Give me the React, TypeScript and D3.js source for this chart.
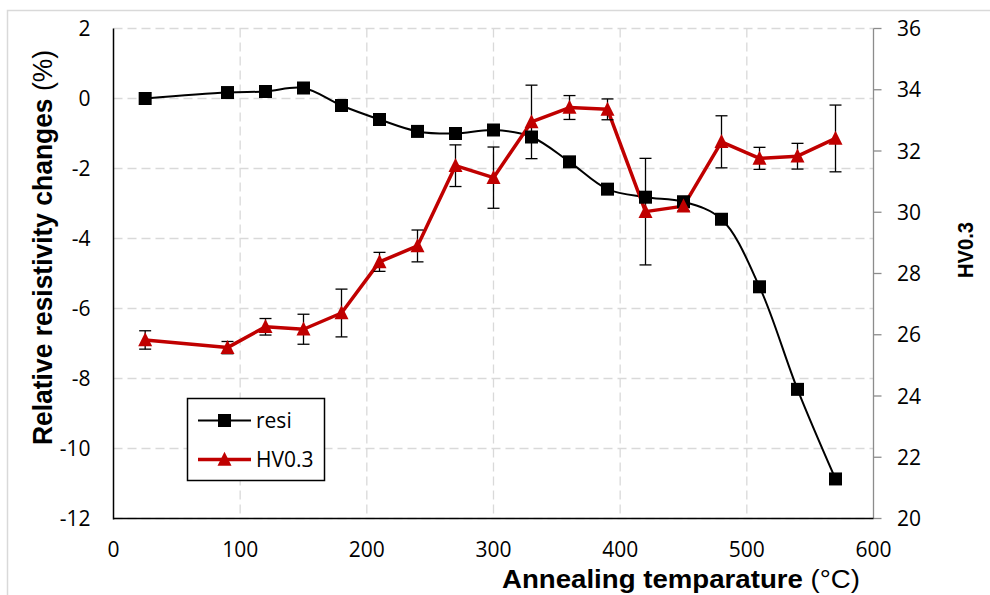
import * as d3 from "d3";

// annealing temperatures (°C)
const temps = [25, 90, 120, 150, 180, 210, 240, 270, 300, 330, 360, 390, 420, 450, 480, 510, 540, 570];
// relative resistivity change (%)
const resi = [0.0, 0.17, 0.2, 0.3, -0.2, -0.6, -0.94, -1.0, -0.9, -1.1, -1.81, -2.59, -2.82, -2.95, -3.45, -5.38, -8.31, -10.87];
// micro hardness HV0.3 and its error
const hv = [25.83, 25.58, 26.26, 26.18, 26.71, 28.38, 28.9, 31.52, 31.13, 32.95, 33.42, 33.36, 30.02, 30.2, 32.3, 31.76, 31.83, 32.41];
const hvErr = [0.3, 0.2, 0.27, 0.49, 0.78, 0.31, 0.52, 0.68, 1.0, 1.2, 0.39, 0.34, 1.74, 0.15, 0.85, 0.36, 0.42, 1.09];

const xTicks = [0, 100, 200, 300, 400, 500, 600];
const yLeftTicks = [2, 0, -2, -4, -6, -8, -10, -12];
const yRightTicks = [36, 34, 32, 30, 28, 26, 24, 22, 20];

const RED = "#C00000";
const GRID = "#d9d9d9";
const TICK_FONT = "'Open Sans', sans-serif";
const TITLE_FONT = "'Liberation Sans', Arial, sans-serif";

const left = 113.5, right = 873.5, top = 28.5, bottom = 518.5;

const x = d3.scaleLinear().domain([0, 600]).range([left, right]);
const yL = d3.scaleLinear().domain([-12, 2]).range([bottom, top]);
const yR = d3.scaleLinear().domain([20, 36]).range([bottom, top]);

const tri = (cx: number, cy: number, s: number) =>
  `M${cx},${cy - s * 0.55}L${cx + s / 2},${cy + s * 0.45}L${cx - s / 2},${cy + s * 0.45}Z`;

export default function App() {
  const resiLine = d3.line<number>()
    .x((_, i) => x(temps[i]))
    .y(d => yL(d))
    .curve(d3.curveCatmullRom.alpha(0.5))(resi) || "";

  const hvLine = d3.line<number>()
    .x((_, i) => x(temps[i]))
    .y(d => yR(d))(hv) || "";

  return (
    <svg width={990} height={595} style={{ position: "absolute", left: 0, top: 0, background: "#fff" }}>
      <rect x={7.5} y={10.5} width={1000} height={1000} fill="#fff" stroke={GRID} strokeWidth={1.5} />

      {/* grid */}
      {yLeftTicks.map(t => (
        <line key={"h" + t} x1={left} x2={right} y1={yL(t)} y2={yL(t)} stroke={GRID} strokeWidth={1.3} strokeDasharray="9,5" />
      ))}
      {xTicks.filter(t => t > 0 && t < 600).map(t => (
        <line key={"v" + t} x1={x(t)} x2={x(t)} y1={top} y2={bottom} stroke={GRID} strokeWidth={1.3} strokeDasharray="9,5" />
      ))}

      {/* axes */}
      <line x1={right} x2={right} y1={top} y2={bottom} stroke="#8c8c8c" strokeWidth={1.3} />
      {yRightTicks.map(t => (
        <line key={"rt" + t} x1={right} x2={right + 8} y1={yR(t)} y2={yR(t)} stroke="#8c8c8c" strokeWidth={1.3} />
      ))}
      <line x1={left} x2={left} y1={top} y2={bottom + 1} stroke="#000" strokeWidth={1.5} />
      <line x1={left} x2={right} y1={bottom} y2={bottom} stroke="#000" strokeWidth={1.5} />

      {/* tick labels */}
      <g fontFamily={TICK_FONT} fontSize={21} fill="#000">
        {yLeftTicks.map(t => (
          <text key={"l" + t} x={90.5} y={yL(t)} dy="0.36em" textAnchor="end">{t}</text>
        ))}
        {yRightTicks.map(t => (
          <text key={"r" + t} x={897} y={yR(t)} dy="0.36em" textAnchor="start">{t}</text>
        ))}
        {xTicks.map(t => (
          <text key={"x" + t} x={x(t)} y={557} textAnchor="middle">{t}</text>
        ))}
      </g>

      {/* titles */}
      <text transform="translate(52,247.5) rotate(-90)" textAnchor="middle" fontFamily={TITLE_FONT} fontSize={27}
        textLength={395} lengthAdjust="spacingAndGlyphs">
        <tspan fontWeight="bold">Relative resistivity changes </tspan><tspan>(%)</tspan>
      </text>
      <text x={681} y={588} textAnchor="middle" fontFamily={TITLE_FONT} fontSize={25}
        textLength={358} lengthAdjust="spacingAndGlyphs">
        <tspan fontWeight="bold">Annealing temparature </tspan><tspan>(°C)</tspan>
      </text>
      <text transform="translate(972.5,250) rotate(-90)" textAnchor="middle" fontFamily={TITLE_FONT} fontSize={22}
        fontWeight="bold" textLength={56} lengthAdjust="spacingAndGlyphs">HV0.3</text>

      {/* series */}
      <path d={resiLine} fill="none" stroke="#000" strokeWidth={2} />
      <path d={hvLine} fill="none" stroke={RED} strokeWidth={3.5} strokeLinejoin="round" />

      {hv.map((v, i) => {
        const cx = x(temps[i]);
        const y1 = yR(v + hvErr[i]);
        const y2 = yR(v - hvErr[i]);
        return (
          <g key={"e" + i} stroke="#000" strokeWidth={1.3}>
            <line x1={cx} x2={cx} y1={y1} y2={y2} />
            <line x1={cx - 6} x2={cx + 6} y1={y1} y2={y1} />
            <line x1={cx - 6} x2={cx + 6} y1={y2} y2={y2} />
          </g>
        );
      })}

      {resi.map((v, i) => (
        <rect key={"s" + i} x={x(temps[i]) - 6.5} y={yL(v) - 6.5} width={13} height={13} fill="#000" />
      ))}
      {hv.map((v, i) => (
        <path key={"t" + i} d={tri(x(temps[i]), yR(v), 14)} fill={RED} />
      ))}

      {/* legend */}
      <rect x={187.5} y={398.5} width={137} height={82} fill="#fff" stroke="#000" strokeWidth={1.5} />
      <line x1={198} x2={251} y1={420.5} y2={420.5} stroke="#000" strokeWidth={2} />
      <rect x={224.5 - 6.5} y={420.5 - 6.5} width={13} height={13} fill="#000" />
      <line x1={198} x2={251} y1={459.5} y2={459.5} stroke={RED} strokeWidth={3.5} />
      <path d={tri(224.5, 459.5, 14)} fill={RED} />
      <g fontFamily={TICK_FONT} fontSize={21} fill="#000">
        <text x={256} y={420.5} dy="0.36em">resi</text>
        <text x={256} y={459.5} dy="0.36em">HV0.3</text>
      </g>
    </svg>
  );
}
